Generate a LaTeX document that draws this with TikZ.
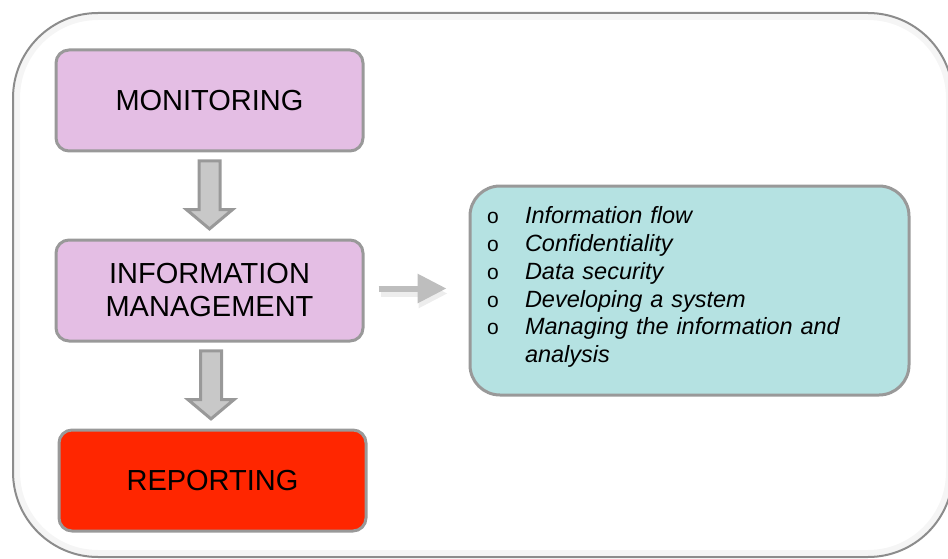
\documentclass[tikz,border=0pt]{standalone}
\usepackage{fontspec}
\setmainfont{Liberation Sans}
\usepackage{xcolor}
\usetikzlibrary{shapes,arrows.meta,positioning,calc}
\definecolor{stage}{RGB}{228,190,228}
\definecolor{alert}{RGB}{255,38,0}
\definecolor{detail}{RGB}{181,226,226}
\definecolor{edge}{RGB}{153,153,153}
\definecolor{pointer}{RGB}{200,200,200}
\definecolor{sidearrow}{RGB}{190,190,190}

\begin{document}
\begin{tikzpicture}[x=1pt,y=-1pt,
  stagebox/.style={draw=edge,line width=3pt,rounded corners=13pt,minimum width=307pt,minimum height=101pt,align=center,font=\fontsize{29}{33}\selectfont},
  downarrow/.style={single arrow,draw=edge,fill=pointer,line width=3pt,shape border rotate=270,minimum height=68pt,minimum width=46pt,single arrow head extend=12.5pt,single arrow tip angle=100,inner sep=9pt}]
  \useasboundingbox (0,0) rectangle (948,559);
  \clip (0,0) rectangle (948,559);
  % outer frame with a soft inner shade
  \draw[black!4,line width=6pt,rounded corners=81pt] (17,17) rectangle (949,553);
  \draw[black!45,line width=2pt,rounded corners=85pt] (13,13) rectangle (953,557);

  \node[stagebox,fill=stage] (mon) at (209.5,100.5) {MONITORING};
  \node[stagebox,fill=stage,below=86pt of mon] (info) {INFORMATION\\MANAGEMENT};
  \node[stagebox,fill=alert,below=86pt of info,xshift=3pt] (rep) {REPORTING};

  \node[draw=edge,fill=detail,line width=3pt,rounded corners=30pt,minimum width=439pt,minimum height=209pt,
        text width=405pt,inner xsep=17pt,align=left,font=\fontsize{23.5}{27.8}\selectfont,right=104pt of info] (tasks)
    {\makebox[38pt][l]{\upshape\fontsize{21}{27.8}\selectfont o}\textit{Information flow}\\
     \makebox[38pt][l]{\upshape\fontsize{21}{27.8}\selectfont o}\textit{Confidentiality}\\
     \makebox[38pt][l]{\upshape\fontsize{21}{27.8}\selectfont o}\textit{Data security}\\
     \makebox[38pt][l]{\upshape\fontsize{21}{27.8}\selectfont o}\textit{Developing a system}\\
     \makebox[38pt][l]{\upshape\fontsize{21}{27.8}\selectfont o}\textit{Managing the information and}\\
     \hspace*{38pt}\textit{analysis}\\[-16pt]\mbox{}};

  \foreach \a/\b/\n in {mon/info/down1,info/rep/down2}{
    \node[downarrow,yshift=5pt] (\n) at ($(\a.south)!0.5!(\b.north)$) {};
  }
  % side arrow with its shadow
  \draw[black!7,line width=6pt,-{Triangle[width=28pt,length=29pt]}] ([xshift=16pt,yshift=-3pt]info.east) -- ([xshift=-21pt,yshift=-3pt]tasks.west);
  \draw[sidearrow,line width=6pt,-{Triangle[width=28pt,length=29pt]}] ([xshift=14pt,yshift=2pt]info.east) -- ([xshift=-22pt,yshift=2pt]tasks.west);
\end{tikzpicture}
\end{document}
